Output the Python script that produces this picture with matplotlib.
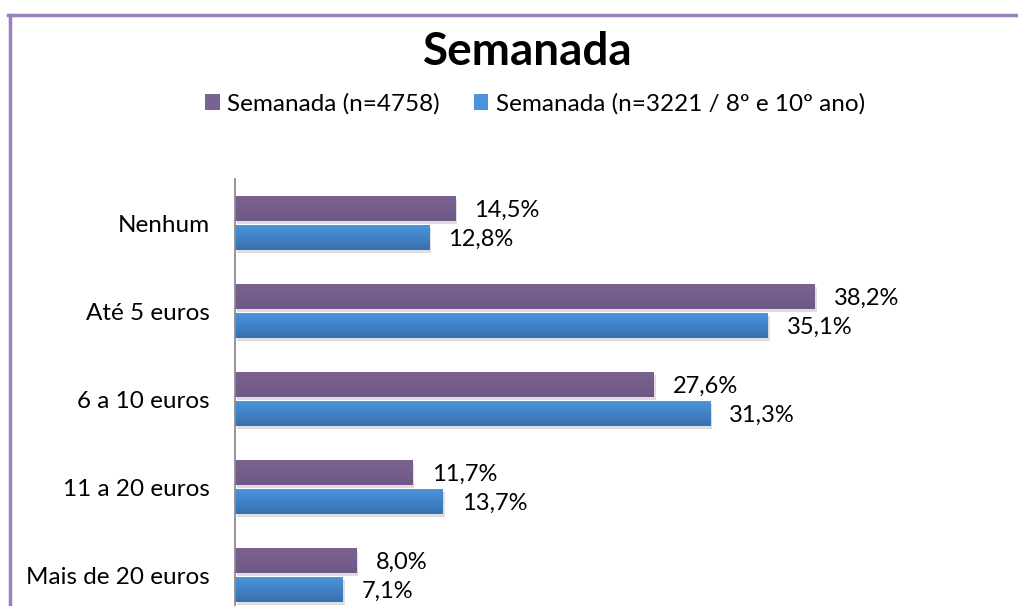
import numpy as np
import matplotlib.pyplot as plt
from matplotlib.patches import Patch, Rectangle
from matplotlib.lines import Line2D

plt.rcParams['font.family'] = ['Lato', 'DejaVu Sans']

categories = ["Nenhum", "Até 5 euros", "6 a 10 euros", "11 a 20 euros", "Mais de 20 euros"]
total = [14.5, 38.2, 27.6, 11.7, 8.0]
ano_8_10 = [12.8, 35.1, 31.3, 13.7, 7.1]
series_names = ["Semanada (n=4758)", "Semanada (n=3221 / 8º e 10º ano)"]

purple_top, purple_bot = "#7a6292", "#6f5786"
blue_top, blue_bot = "#4c94dc", "#3670ae"

fig = plt.figure(figsize=(10.18, 6.06), dpi=100)
ax = fig.add_axes([235 / 1018, -13 / 606, 765 / 1018, 440 / 606])

y = np.arange(len(categories))
h = 0.28
off = 0.167

def grad_bars(ypos, vals, ctop, cbot):
    bars = ax.barh(ypos, vals, height=h, color="none", edgecolor="none")
    c1 = np.array(plt.matplotlib.colors.to_rgb(ctop))
    c2 = np.array(plt.matplotlib.colors.to_rgb(cbot))
    t = np.linspace(0, 1, 32)[:, None, None]
    img = c1 * (1 - t) + c2 * t
    for b in bars:
        x0, y0, w, hh = b.get_x(), b.get_y(), b.get_width(), b.get_height()
        # drop shadow
        ax.add_patch(Rectangle((x0 + 0.12, y0 + 0.035), w, hh, color="#000000",
                               alpha=0.13, lw=0, zorder=1))
        ax.imshow(img, extent=(x0, x0 + w, y0 + hh, y0), aspect="auto",
                  zorder=2, interpolation="bilinear")
    return bars

grad_bars(y - off, total, purple_top, purple_bot)
grad_bars(y + off, ano_8_10, blue_top, blue_bot)

for i in range(len(categories)):
    ax.text(total[i] + 1.25, y[i] - off + 0.02, f"{total[i]:.1f}%".replace(".", ","),
            va="center", ha="left", fontsize=17)
    ax.text(ano_8_10[i] + 1.25, y[i] + off + 0.02, f"{ano_8_10[i]:.1f}%".replace(".", ","),
            va="center", ha="left", fontsize=17)

ax.set_xlim(0, 50.4)
ax.set_ylim(4.5, -0.5)
ax.set_yticks(y)
ax.set_yticklabels(categories, fontsize=17.5)
ax.set_xticks([])
ax.tick_params(axis="y", length=0, pad=18)
for s in ["top", "right", "bottom"]:
    ax.spines[s].set_visible(False)
ax.spines["left"].set_color("#8c8c8c")
ax.spines["left"].set_linewidth(1.3)
ax.patch.set_alpha(0)

fig.text(0.5186, 1 - 52 / 606, "Semanada", ha="center", va="center",
         fontsize=33, fontweight="bold")

handles = [Patch(facecolor=purple_top), Patch(facecolor=blue_top)]
fig.legend(handles, series_names, loc="center", bbox_to_anchor=(535 / 1018, 1 - 104 / 606),
           ncol=2, frameon=False, fontsize=17.5, handlelength=0.6, handleheight=0.6,
           handletextpad=0.3, columnspacing=1.4)

# chart border
fig.add_artist(Line2D([9.5 / 1018, 9.5 / 1018], [0, 1 - 14.5 / 606], color="#9a82b8", lw=2.5))
fig.add_artist(Line2D([8 / 1018, 1], [1 - 14.5 / 606, 1 - 14.5 / 606], color="#9a82b8", lw=2.5))

fig.savefig("out.png", dpi=100)
